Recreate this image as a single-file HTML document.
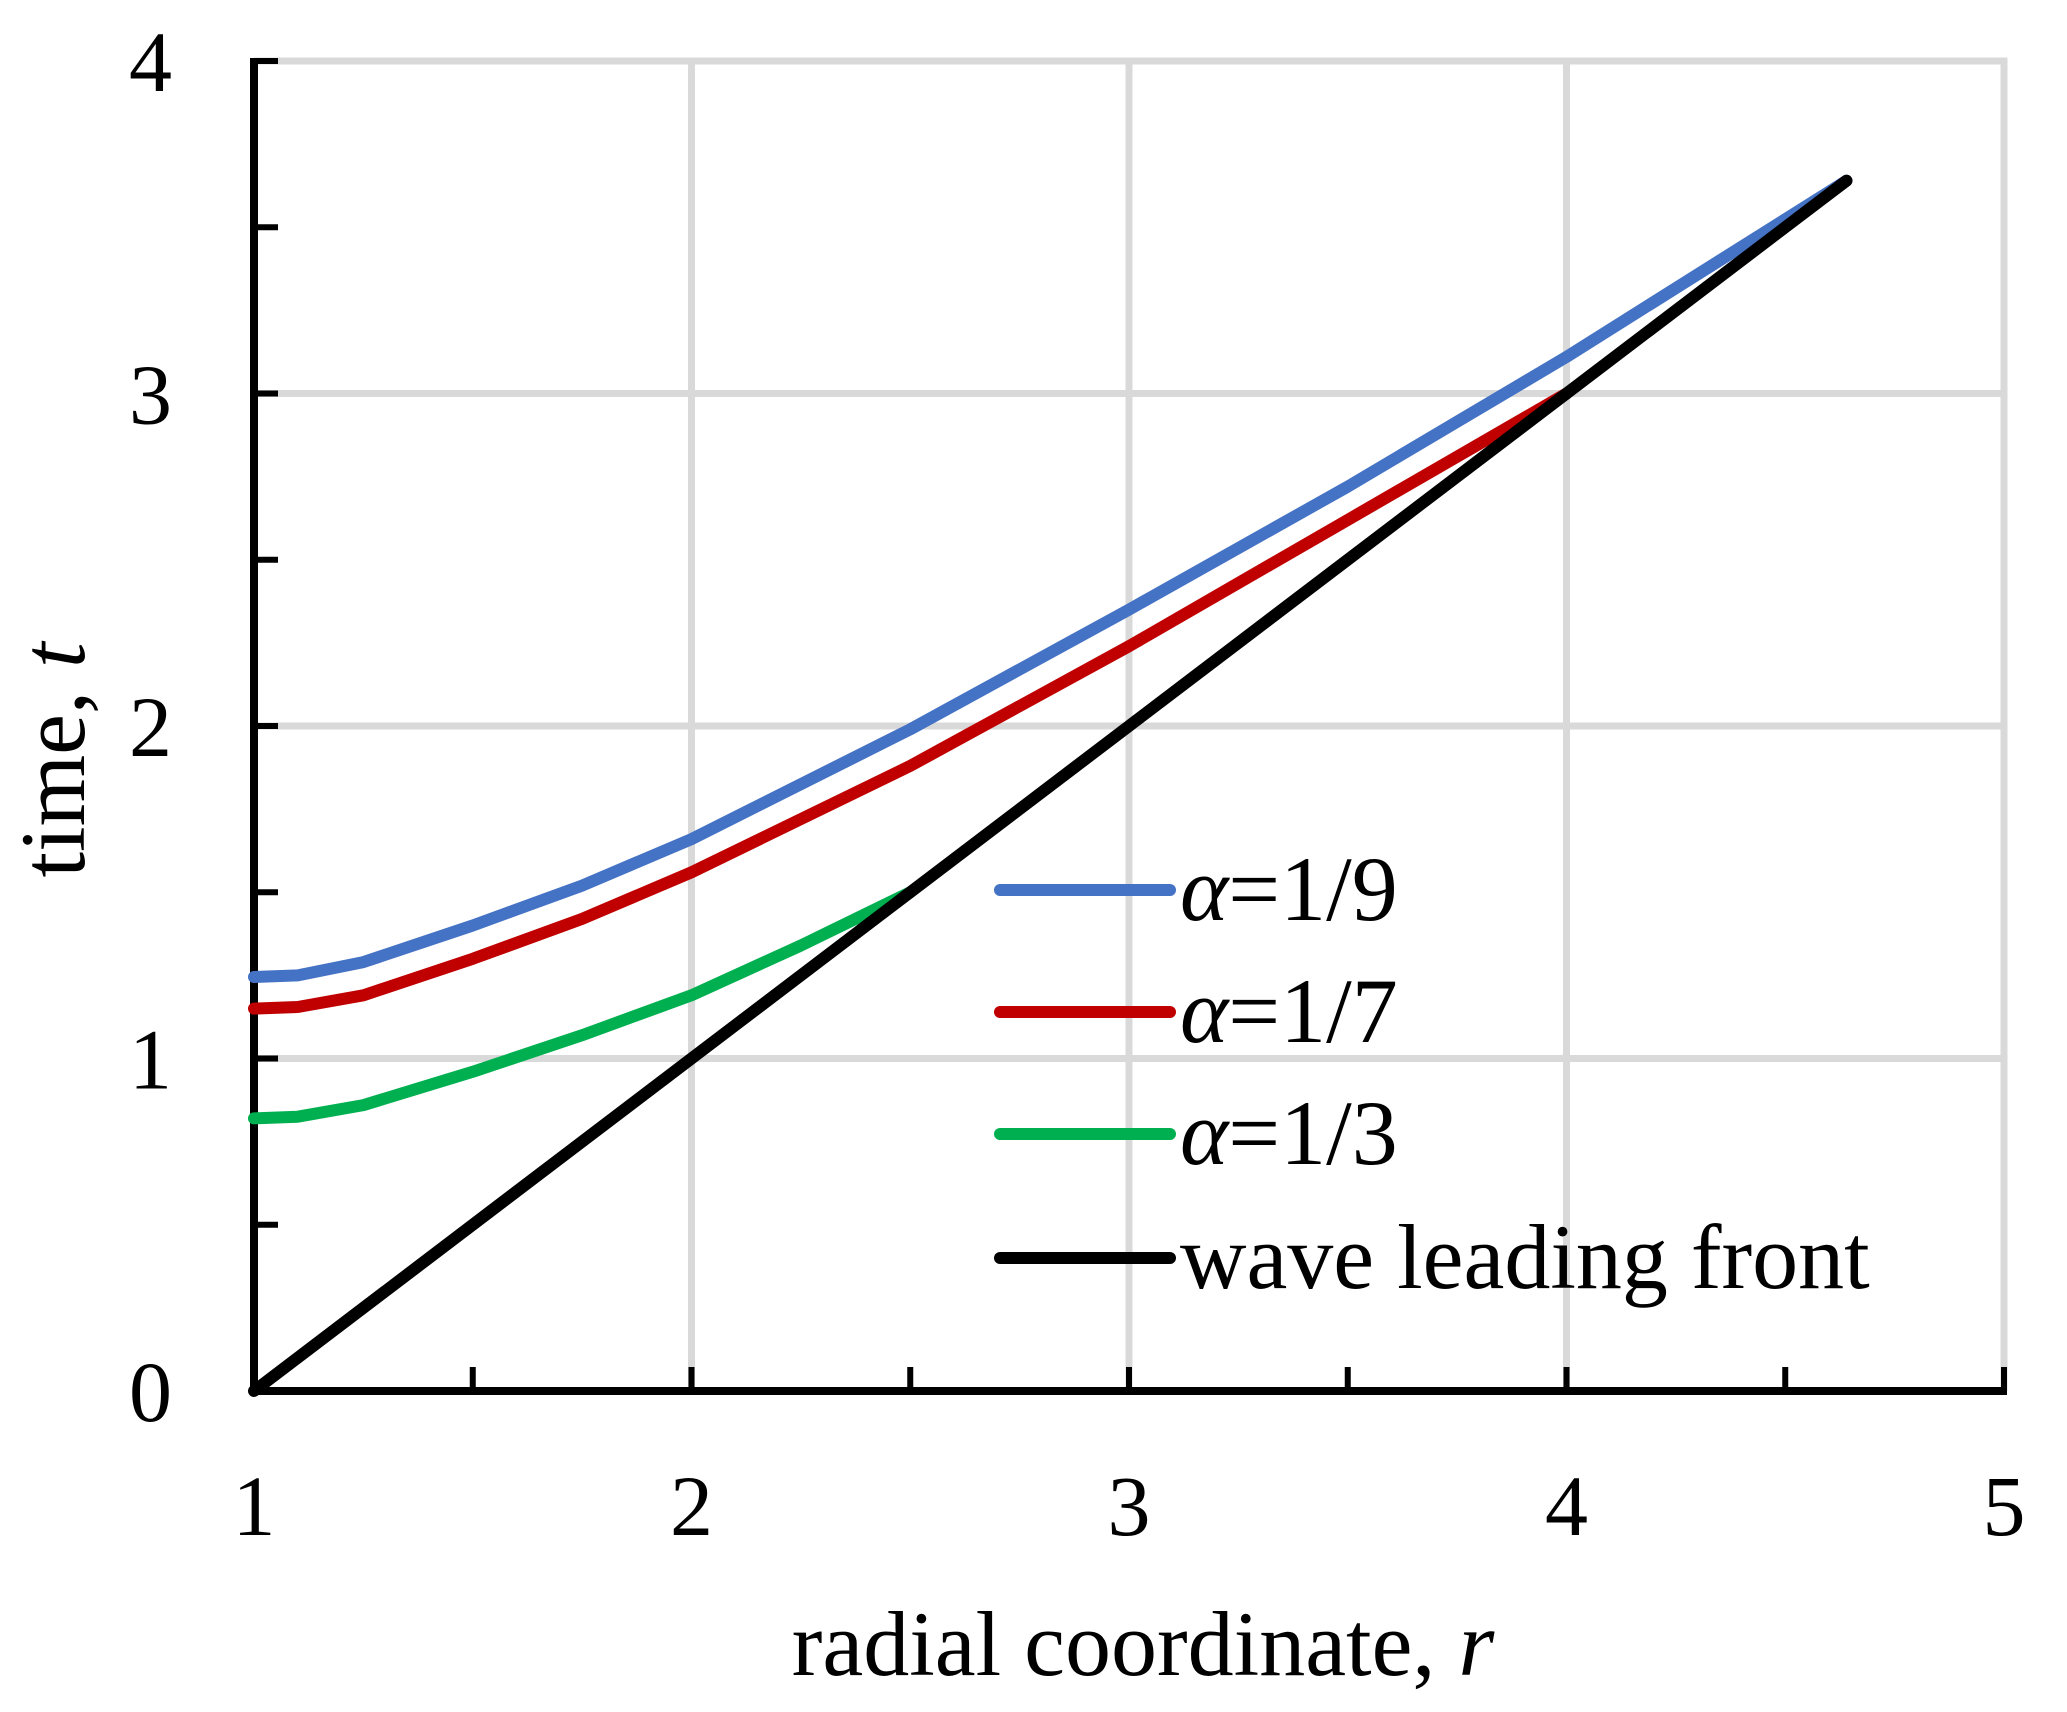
<!DOCTYPE html>
<html><head><meta charset="utf-8"><style>html,body{margin:0;padding:0;background:#fff}svg{display:block}</style></head>
<body>
<svg width="2067" height="1712" viewBox="0 0 2067 1712" xmlns="http://www.w3.org/2000/svg" font-family="'Liberation Serif', serif">
<g stroke="#d9d9d9" stroke-width="7">
<line x1="691.5" y1="61" x2="691.5" y2="1391"/>
<line x1="1129" y1="61" x2="1129" y2="1391"/>
<line x1="1566.5" y1="61" x2="1566.5" y2="1391"/>
<line x1="2004" y1="58" x2="2004" y2="1391"/>
<line x1="254" y1="1058.5" x2="2007" y2="1058.5"/>
<line x1="254" y1="726" x2="2007" y2="726"/>
<line x1="254" y1="393.5" x2="2007" y2="393.5"/>
<line x1="254" y1="61" x2="2007" y2="61"/>
</g>
<g stroke="#000" stroke-width="6">
<line x1="254" y1="58" x2="254" y2="1394" stroke-width="8"/>
<line x1="251" y1="1391" x2="2007" y2="1391" stroke-width="8"/>
<line x1="254" y1="1224.75" x2="278" y2="1224.75"/>
<line x1="254" y1="1058.5" x2="278" y2="1058.5"/>
<line x1="254" y1="892.25" x2="278" y2="892.25"/>
<line x1="254" y1="726" x2="278" y2="726"/>
<line x1="254" y1="559.75" x2="278" y2="559.75"/>
<line x1="254" y1="393.5" x2="278" y2="393.5"/>
<line x1="254" y1="227.25" x2="278" y2="227.25"/>
<line x1="254" y1="61" x2="278" y2="61"/>
<line x1="472.75" y1="1391" x2="472.75" y2="1367"/>
<line x1="691.5" y1="1391" x2="691.5" y2="1367"/>
<line x1="910.25" y1="1391" x2="910.25" y2="1367"/>
<line x1="1129" y1="1391" x2="1129" y2="1367"/>
<line x1="1347.75" y1="1391" x2="1347.75" y2="1367"/>
<line x1="1566.5" y1="1391" x2="1566.5" y2="1367"/>
<line x1="1785.25" y1="1391" x2="1785.25" y2="1367"/>
<line x1="2004" y1="1391" x2="2004" y2="1367"/>
</g>
<g font-size="86" text-anchor="end">
<text x="172" y="1421">0</text>
<text x="172" y="1088.5">1</text>
<text x="172" y="756">2</text>
<text x="172" y="423.5">3</text>
<text x="172" y="91">4</text>
</g>
<g font-size="86" text-anchor="middle">
<text x="254" y="1535">1</text>
<text x="691.5" y="1535">2</text>
<text x="1129" y="1535">3</text>
<text x="1566.5" y="1535">4</text>
<text x="2004" y="1535">5</text>
</g>
<g font-size="92" text-anchor="middle">
<text x="1143" y="1675">radial coordinate, <tspan font-style="italic">r</tspan></text>
<text transform="translate(84,760) rotate(-90)">time, <tspan font-style="italic">t</tspan></text>
</g>
<g fill="none" stroke-width="12" stroke-linecap="round" stroke-linejoin="round">
<polyline stroke="#00b050" points="254,1118.4 297.75,1116.7 363.4,1105.1 472.75,1071.8 582.1,1035.2 691.5,995.3 800.9,945.5 910.25,892.25"/>
<polyline stroke="#c00000" points="254,1008.6 297.75,1007 363.4,995.3 472.75,958.8 582.1,918.9 691.5,872.3 910.25,765.9 1129,646.2 1347.75,519.9 1566.5,393.5"/>
<polyline stroke="#4472c4" points="254,977 297.75,975.4 363.4,962.1 472.75,925.5 582.1,885.6 691.5,839.1 910.25,729.3 1129,609.6 1347.75,486.6 1566.5,356.9 1846.5,180.7"/>
<line stroke="#000" x1="254" y1="1391" x2="1846.5" y2="180.7"/>
</g>
<g stroke-width="12" stroke-linecap="round">
<line x1="1000" y1="890" x2="1170" y2="890" stroke="#4472c4"/>
<line x1="1000" y1="1012" x2="1170" y2="1012" stroke="#c00000"/>
<line x1="1000" y1="1134" x2="1170" y2="1134" stroke="#00b050"/>
<line x1="1000" y1="1258" x2="1170" y2="1258" stroke="#000"/>
</g>
<g font-size="92">
<text x="1180" y="920"><tspan font-style="italic">α</tspan>=1/9</text>
<text x="1180" y="1042"><tspan font-style="italic">α</tspan>=1/7</text>
<text x="1180" y="1164"><tspan font-style="italic">α</tspan>=1/3</text>
<text x="1180" y="1288">wave leading front</text>
</g>
</svg>
</body></html>
